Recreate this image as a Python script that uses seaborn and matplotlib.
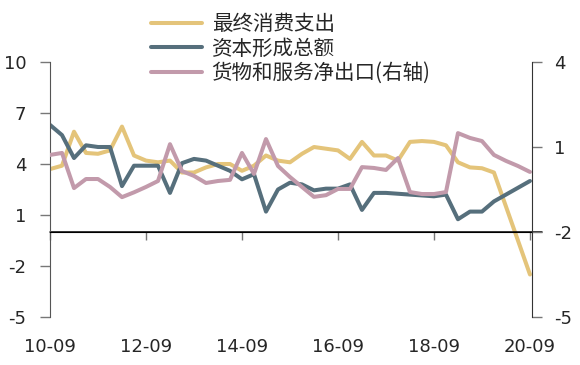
import numpy as np
import pandas as pd
import matplotlib
matplotlib.use('Agg')
import matplotlib.pyplot as plt
import matplotlib.transforms as mtransforms
import seaborn as sns

# quarterly, 2010-09 .. 2020-09
tick_pos = [0, 8, 16, 24, 32, 40]
tick_labels = ['10-09', '12-09', '14-09', '16-09', '18-09', '20-09']

consumption = [3.7, 3.9, 5.9, 4.65, 4.6, 4.8, 6.2, 4.5, 4.2, 4.1,
               4.2, 3.5, 3.5, 3.8, 4.0, 4.0, 3.6, 3.9, 4.5, 4.2,
               4.1, 4.6, 5.0, 4.9, 4.8, 4.3, 5.3, 4.5, 4.5, 4.2,
               5.3, 5.35, 5.3, 5.1, 4.1, 3.8, 3.75, 3.5, 1.5, -0.5, -2.5]
capital = [6.3, 5.7, 4.35, 5.1, 5.0, 5.0, 2.7, 3.9, 3.9, 3.9,
           2.3, 4.05, 4.3, 4.2, 3.9, 3.6, 3.1, 3.4, 1.2, 2.5,
           2.9, 2.8, 2.45, 2.55, 2.55, 2.8, 1.3, 2.3, 2.3, 2.25,
           2.2, 2.15, 2.1, 2.2, 0.75, 1.2, 1.2, 1.8, 2.2, 2.6, 3.0]
net_exports = [0.72, 0.79, -0.45, -0.13, -0.13, -0.41, -0.77, -0.6, -0.41, -0.2,
               1.1, 0.15, -0.02, -0.27, -0.2, -0.16, 0.79, 0.05, 1.28, 0.33,
               -0.06, -0.41, -0.76, -0.7, -0.48, -0.48, 0.29, 0.26, 0.19, 0.61,
               -0.59, -0.66, -0.66, -0.59, 1.49, 1.32, 1.21, 0.72, 0.51, 0.33, 0.12]

names = ['最终消费支出', '资本形成总额', '货物和服务净出口(右轴)']
colors = ['#E4C47A', '#566F7C', '#C29AAB']

df = pd.DataFrame({'q': np.arange(len(consumption)),
                   'c': consumption, 'k': capital, 'n': net_exports})

sns.set_style('white')
plt.rcParams['font.family'] = ['DejaVu Sans', 'Noto Sans CJK SC']
plt.rcParams['axes.unicode_minus'] = False

fig = plt.figure(figsize=(5.8, 3.65), dpi=100)
ax = fig.add_axes([50/580, 48/365, 482/580, 255/365])
ax2 = ax.twinx()

lw = 2.9
sns.lineplot(data=df, x='q', y='c', ax=ax, color=colors[0], linewidth=lw)
sns.lineplot(data=df, x='q', y='k', ax=ax, color=colors[1], linewidth=lw)
sns.lineplot(data=df, x='q', y='n', ax=ax2, color=colors[2], linewidth=lw)

ax.set_xlim(0, 40.17)
ax.set_ylim(-5, 10)
ax.set_yticks([-5, -2, 1, 4, 7, 10])
ax2.set_ylim(-5, 4)
ax2.set_yticks([-5, -2, 1, 4])
for a in (ax, ax2):
    a.set_xlabel('')
    a.set_ylabel('')
    a.grid(False)
    a.spines['top'].set_visible(False)
    a.spines['bottom'].set_visible(False)

ax.spines['left'].set_color('#555555')
ax.spines['right'].set_visible(False)
ax2.spines['left'].set_visible(False)
ax2.spines['right'].set_color('#333333')

# zero line carries the x ticks, labels sit at the bottom
ax.spines['bottom'].set_visible(True)
ax.spines['bottom'].set_position(('data', 0))
ax.spines['bottom'].set_color('black')
trans = mtransforms.blended_transform_factory(ax.transAxes, ax.transData)
ax.plot([0, 1.02], [0, 0], color='black', linewidth=1.1, transform=trans, clip_on=False)

ax.set_xticks(tick_pos)
ax.set_xticklabels(tick_labels)
ax.tick_params(axis='x', direction='out', length=6, width=1, color='#777777',
               pad=70, labelsize=13, bottom=True)
ax.tick_params(axis='y', direction='out', length=7, width=1, color='#777777',
               pad=10, labelsize=13, left=True)
ax2.tick_params(axis='y', direction='out', length=7, width=1, color='#777777',
                pad=9, labelsize=13, right=True)

handles = [plt.Line2D([], [], color=c, linewidth=lw) for c in colors]
fig.legend(handles, names, loc='upper left', bbox_to_anchor=(151/580, 1 - 13/365),
           frameon=False, borderpad=0, borderaxespad=0, handlelength=2.5,
           handletextpad=0.45, labelspacing=0.12,
           prop={'family': ['Noto Sans CJK SC', 'DejaVu Sans'], 'size': 14.8})

fig.savefig('out.png', dpi=100)
